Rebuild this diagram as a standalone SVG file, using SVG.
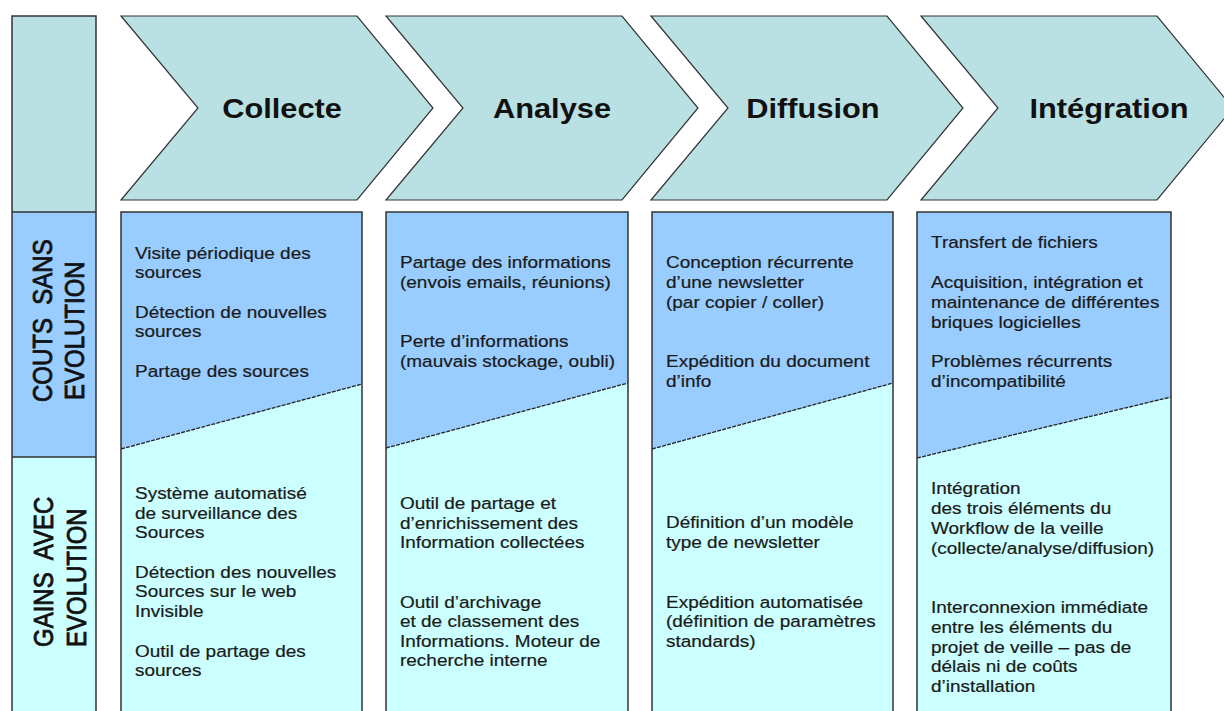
<svg xmlns="http://www.w3.org/2000/svg" width="1224" height="711" viewBox="0 0 1224 711">
<style>
.chev{fill:#B9E0E2;stroke:#333;stroke-width:1.2}
.top{fill:#99CCFF}
.bot{fill:#CCFFFF}
.frame{fill:none;stroke:#333;stroke-width:1.5}
.diag{stroke:#222;stroke-width:1.3;stroke-dasharray:4 1.2;fill:none}
.title{font-family:"Liberation Sans",Arial,sans-serif;font-weight:bold;font-size:27px;fill:#111;text-anchor:middle}
.body{font-family:"Liberation Sans",Arial,sans-serif;font-size:16.5px;fill:#1a1a1a;stroke:#1a1a1a;stroke-width:0.2}
.side{font-family:"Liberation Sans",Arial,sans-serif;font-size:24px;fill:#111;stroke:#111;stroke-width:0.7;white-space:pre}
</style>
<rect width="1224" height="711" fill="#fff"/>

<g id="side">
<rect x="12" y="16" width="84" height="196" fill="#B9E0E2"/>
<rect x="12" y="212" width="84" height="245" fill="#99CCFF"/>
<rect x="12" y="457" width="84" height="260" fill="#CCFFFF"/>
<path d="M12,716 V16 H96 V716 M12,212 H96 M12,457 H96" fill="none" stroke="#333" stroke-width="1.5"/>
<text class="side" xml:space="preserve" transform="translate(52,402) scale(1.15,1) rotate(-90)"><tspan x="0" y="0">COUTS  SANS</tspan></text>
<text class="side" transform="translate(84,400) scale(1.15,1) rotate(-90)"><tspan x="0" y="0">EVOLUTION</tspan></text>
<text class="side" xml:space="preserve" transform="translate(53,647) scale(1.15,1) rotate(-90)"><tspan x="0" y="0">GAINS  AVEC</tspan></text>
<text class="side" transform="translate(86,647) scale(1.15,1) rotate(-90)"><tspan x="0" y="0">EVOLUTION</tspan></text>
</g>

<g id="chev-collecte">
<polygon class="chev" points="121,16 357,16 433,108 357,200 121,200 198,108"/>
<text class="title" transform="translate(282,118) scale(1.14,1)" x="0" y="0">Collecte</text>
</g>
<g id="chev-analyse">
<polygon class="chev" points="386,16 622,16 698,108 622,200 386,200 463,108"/>
<text class="title" transform="translate(552,118) scale(1.14,1)" x="0" y="0">Analyse</text>
</g>
<g id="chev-diffusion">
<polygon class="chev" points="651,16 887,16 963,108 887,200 651,200 728,108"/>
<text class="title" transform="translate(813,118) scale(1.14,1)" x="0" y="0">Diffusion</text>
</g>
<g id="chev-integration">
<polygon class="chev" points="921,16 1157,16 1233,108 1157,200 921,200 998,108"/>
<text class="title" transform="translate(1109,118) scale(1.14,1)" x="0" y="0">Intégration</text>
</g>

<g id="panel-collecte">
<polygon class="top" points="121,212 362,212 362,384 121,449"/>
<polygon class="bot" points="121,449 362,384 362,716 121,716"/>
<line class="diag" x1="121" y1="449" x2="362" y2="384"/>
<path class="frame" d="M121,716 V212 H362 V716"/>
<text class="body" transform="translate(135,0) scale(1.15,1)">
<tspan x="0" y="259">Visite périodique des</tspan>
<tspan x="0" y="278">sources</tspan>
<tspan x="0" y="318">Détection de nouvelles</tspan>
<tspan x="0" y="337">sources</tspan>
<tspan x="0" y="377">Partage des sources</tspan>
<tspan x="0" y="499">Système automatisé</tspan>
<tspan x="0" y="519">de surveillance des</tspan>
<tspan x="0" y="538">Sources</tspan>
<tspan x="0" y="578">Détection des nouvelles</tspan>
<tspan x="0" y="597">Sources sur le web</tspan>
<tspan x="0" y="617">Invisible</tspan>
<tspan x="0" y="657">Outil de partage des</tspan>
<tspan x="0" y="676">sources</tspan>
</text>
</g>

<g id="panel-analyse">
<polygon class="top" points="386,212 628,212 628,383 386,448"/>
<polygon class="bot" points="386,448 628,383 628,716 386,716"/>
<line class="diag" x1="386" y1="448" x2="628" y2="383"/>
<path class="frame" d="M386,716 V212 H628 V716"/>
<text class="body" transform="translate(400,0) scale(1.15,1)">
<tspan x="0" y="268">Partage des informations</tspan>
<tspan x="0" y="288">(envois emails, réunions)</tspan>
<tspan x="0" y="347">Perte d’informations</tspan>
<tspan x="0" y="367">(mauvais stockage, oubli)</tspan>
<tspan x="0" y="509">Outil de partage et</tspan>
<tspan x="0" y="529">d’enrichissement des</tspan>
<tspan x="0" y="548">Information collectées</tspan>
<tspan x="0" y="608">Outil d’archivage</tspan>
<tspan x="0" y="627">et de classement des</tspan>
<tspan x="0" y="647">Informations. Moteur de</tspan>
<tspan x="0" y="666">recherche interne</tspan>
</text>
</g>

<g id="panel-diffusion">
<polygon class="top" points="652,212 893,212 893,383 652,449"/>
<polygon class="bot" points="652,449 893,383 893,716 652,716"/>
<line class="diag" x1="652" y1="449" x2="893" y2="383"/>
<path class="frame" d="M652,716 V212 H893 V716"/>
<text class="body" transform="translate(666,0) scale(1.15,1)">
<tspan x="0" y="268">Conception récurrente</tspan>
<tspan x="0" y="288">d’une newsletter</tspan>
<tspan x="0" y="308">(par copier / coller)</tspan>
<tspan x="0" y="367">Expédition du document</tspan>
<tspan x="0" y="387">d’info</tspan>
<tspan x="0" y="528">Définition d’un modèle</tspan>
<tspan x="0" y="548">type de newsletter</tspan>
<tspan x="0" y="608">Expédition automatisée</tspan>
<tspan x="0" y="627">(définition de paramètres</tspan>
<tspan x="0" y="647">standards)</tspan>
</text>
</g>

<g id="panel-integration">
<polygon class="top" points="917,212 1171,212 1171,397 917,458"/>
<polygon class="bot" points="917,458 1171,397 1171,716 917,716"/>
<line class="diag" x1="917" y1="458" x2="1171" y2="397"/>
<path class="frame" d="M917,716 V212 H1171 V716"/>
<text class="body" transform="translate(931,0) scale(1.15,1)">
<tspan x="0" y="248">Transfert de fichiers</tspan>
<tspan x="0" y="288">Acquisition, intégration et</tspan>
<tspan x="0" y="308">maintenance de différentes</tspan>
<tspan x="0" y="328">briques logicielles</tspan>
<tspan x="0" y="367">Problèmes récurrents</tspan>
<tspan x="0" y="387">d’incompatibilité</tspan>
<tspan x="0" y="494">Intégration</tspan>
<tspan x="0" y="514">des trois éléments du</tspan>
<tspan x="0" y="534">Workflow de la veille</tspan>
<tspan x="0" y="554">(collecte/analyse/diffusion)</tspan>
<tspan x="0" y="613">Interconnexion immédiate</tspan>
<tspan x="0" y="633">entre les éléments du</tspan>
<tspan x="0" y="653">projet de veille – pas de</tspan>
<tspan x="0" y="672">délais ni de coûts</tspan>
<tspan x="0" y="692">d’installation</tspan>
</text>
</g>

<g id="connectors"></g>
</svg>
